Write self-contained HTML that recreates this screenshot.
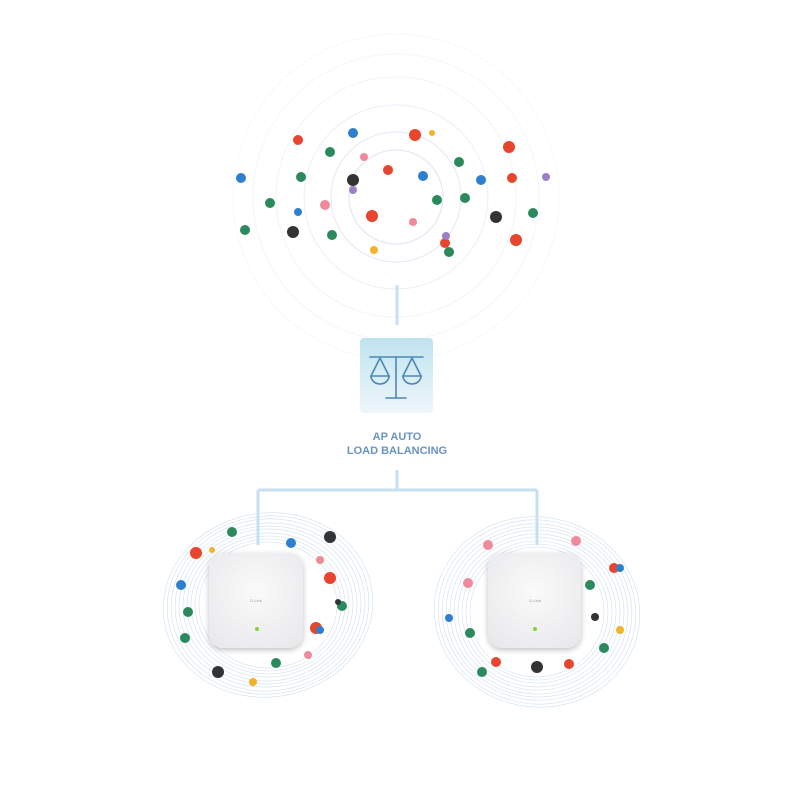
<!DOCTYPE html>
<html><head><meta charset="utf-8"><style>
html,body{margin:0;padding:0;background:#fff;width:800px;height:800px;overflow:hidden}
svg{display:block}
</style></head><body>
<svg width="800" height="800" viewBox="0 0 800 800" xmlns="http://www.w3.org/2000/svg">
<defs>
<linearGradient id="bx" x1="0" y1="0" x2="0" y2="1"><stop offset="0" stop-color="#bfe3ee"/><stop offset="1" stop-color="#eef6fa"/></linearGradient>
<radialGradient id="ap" cx="0.5" cy="0.4" r="0.7"><stop offset="0" stop-color="#fafafa"/><stop offset="1" stop-color="#e9e9ec"/></radialGradient>
<filter id="sh" x="-20%" y="-20%" width="140%" height="140%"><feGaussianBlur in="SourceAlpha" stdDeviation="3"/><feOffset dy="2"/><feComponentTransfer><feFuncA type="linear" slope="0.25"/></feComponentTransfer><feMerge><feMergeNode/><feMergeNode in="SourceGraphic"/></feMerge></filter>
</defs>
<g fill="none" stroke="#eceef8" stroke-width="1">
<circle cx="396" cy="197" r="47" stroke="#dfe2f3"/>
<circle cx="396" cy="197" r="65" stroke="#e5e7f5"/>
<circle cx="396" cy="197" r="92"/>
<circle cx="396" cy="197" r="120" stroke="#f3f4fa"/>
<circle cx="396" cy="197" r="143" stroke="#f5f6fb"/>
<circle cx="396" cy="197" r="163" stroke="#f8f8fc"/>
</g>
<!-- contour blobs -->
<g fill="none" stroke="#cfe0f0" stroke-width="0.6">
<ellipse cx="268" cy="605" rx="105" ry="92" transform="rotate(-8 268 605)"/>
<ellipse cx="268" cy="605" rx="101" ry="89" transform="rotate(-7 268 605)"/>
<ellipse cx="268" cy="605" rx="97" ry="86" transform="rotate(-6 268 605)"/>
<ellipse cx="268" cy="605" rx="93" ry="82" transform="rotate(-5 268 605)"/>
<ellipse cx="268" cy="605" rx="89" ry="79" transform="rotate(-4 268 605)"/>
<ellipse cx="268" cy="605" rx="85" ry="76" transform="rotate(-3 268 605)"/>
<ellipse cx="268" cy="605" rx="81" ry="72" transform="rotate(-2 268 605)"/>
<ellipse cx="268" cy="605" rx="77" ry="69"/>
<ellipse cx="268" cy="605" rx="73" ry="66"/>
<ellipse cx="268" cy="605" rx="69" ry="63"/>
<ellipse cx="537" cy="612" rx="103" ry="95" transform="rotate(10 537 612)"/>
<ellipse cx="537" cy="612" rx="99" ry="92" transform="rotate(9 537 612)"/>
<ellipse cx="537" cy="612" rx="95" ry="88" transform="rotate(8 537 612)"/>
<ellipse cx="537" cy="612" rx="91" ry="85" transform="rotate(6 537 612)"/>
<ellipse cx="537" cy="612" rx="87" ry="82" transform="rotate(5 537 612)"/>
<ellipse cx="537" cy="612" rx="83" ry="78" transform="rotate(3 537 612)"/>
<ellipse cx="537" cy="612" rx="79" ry="75" transform="rotate(2 537 612)"/>
<ellipse cx="537" cy="612" rx="75" ry="71"/>
<ellipse cx="537" cy="612" rx="71" ry="68"/>
<ellipse cx="537" cy="612" rx="67" ry="65"/>
</g>
<!-- connectors -->
<g stroke="#c6e0f0" stroke-width="3" fill="none">
<line x1="397" y1="285" x2="397" y2="325"/>
<line x1="397" y1="470" x2="397" y2="490"/>
<line x1="258" y1="490" x2="537" y2="490"/>
<line x1="258" y1="490" x2="258" y2="545"/>
<line x1="537" y1="490" x2="537" y2="545"/>
</g>
<rect x="360" y="338" width="73" height="75" rx="4" fill="url(#bx)"/>
<g stroke="#4f86b8" stroke-width="1.6" fill="none" stroke-linecap="round">
<line x1="370" y1="357" x2="423" y2="357"/>
<line x1="396" y1="357" x2="396" y2="398"/>
<line x1="386" y1="398" x2="406" y2="398"/>
<path d="M380 358 L371 376 L389 376 Z"/><path d="M371 376 A9 8 0 0 0 389 376"/>
<path d="M412 358 L403 376 L421 376 Z"/><path d="M403 376 A9 8 0 0 0 421 376"/>
</g>
<text x="397" y="440" text-anchor="middle" font-family="Liberation Sans, sans-serif" font-weight="bold" font-size="11" fill="#6a93c0">AP AUTO</text>
<text x="397" y="454" text-anchor="middle" font-family="Liberation Sans, sans-serif" font-weight="bold" font-size="11" fill="#6a93c0">LOAD BALANCING</text>
<!-- APs -->
<rect x="209" y="553" width="94" height="95" rx="14" fill="url(#ap)" filter="url(#sh)"/>
<text x="256" y="602" text-anchor="middle" font-family="Liberation Sans, sans-serif" font-size="4" fill="#999">D-Link</text>
<circle cx="257" cy="629" r="2" fill="#7fd43b"/>
<rect x="488" y="553" width="93" height="95" rx="14" fill="url(#ap)" filter="url(#sh)"/>
<text x="535" y="602" text-anchor="middle" font-family="Liberation Sans, sans-serif" font-size="4" fill="#999">D-Link</text>
<circle cx="535" cy="629" r="2" fill="#7fd43b"/>
<!-- people -->
<g>
<g fill="#e8452e"><circle cx="298" cy="140" r="5"/><circle cx="415" cy="135" r="6"/><circle cx="388" cy="170" r="5"/><circle cx="509" cy="147" r="6"/><circle cx="512" cy="178" r="5"/><circle cx="372" cy="216" r="6"/><circle cx="516" cy="240" r="6"/><circle cx="445" cy="243" r="5"/><circle cx="196" cy="553" r="6"/><circle cx="330" cy="578" r="6"/><circle cx="316" cy="628" r="6"/><circle cx="614" cy="568" r="5"/><circle cx="569" cy="664" r="5"/><circle cx="496" cy="662" r="5"/></g>
<g fill="#2b8a5c"><circle cx="330" cy="152" r="5"/><circle cx="459" cy="162" r="5"/><circle cx="270" cy="203" r="5"/><circle cx="301" cy="177" r="5"/><circle cx="437" cy="200" r="5"/><circle cx="465" cy="198" r="5"/><circle cx="533" cy="213" r="5"/><circle cx="245" cy="230" r="5"/><circle cx="332" cy="235" r="5"/><circle cx="449" cy="252" r="5"/><circle cx="232" cy="532" r="5"/><circle cx="188" cy="612" r="5"/><circle cx="185" cy="638" r="5"/><circle cx="342" cy="606" r="5"/><circle cx="276" cy="663" r="5"/><circle cx="590" cy="585" r="5"/><circle cx="470" cy="633" r="5"/><circle cx="604" cy="648" r="5"/><circle cx="482" cy="672" r="5"/></g>
<g fill="#2d7fd0"><circle cx="353" cy="133" r="5"/><circle cx="423" cy="176" r="5"/><circle cx="241" cy="178" r="5"/><circle cx="481" cy="180" r="5"/><circle cx="298" cy="212" r="4"/><circle cx="181" cy="585" r="5"/><circle cx="291" cy="543" r="5"/><circle cx="320" cy="630" r="4"/><circle cx="620" cy="568" r="4"/><circle cx="449" cy="618" r="4"/></g>
<g fill="#f08a9a"><circle cx="364" cy="157" r="4"/><circle cx="325" cy="205" r="5"/><circle cx="413" cy="222" r="4"/><circle cx="320" cy="560" r="4"/><circle cx="488" cy="545" r="5"/><circle cx="576" cy="541" r="5"/><circle cx="468" cy="583" r="5"/><circle cx="308" cy="655" r="4"/></g>
<g fill="#f2b22c"><circle cx="432" cy="133" r="3"/><circle cx="374" cy="250" r="4"/><circle cx="253" cy="682" r="4"/><circle cx="212" cy="550" r="3"/><circle cx="620" cy="630" r="4"/></g>
<g fill="#333"><circle cx="353" cy="180" r="6"/><circle cx="293" cy="232" r="6"/><circle cx="496" cy="217" r="6"/><circle cx="330" cy="537" r="6"/><circle cx="218" cy="672" r="6"/><circle cx="537" cy="667" r="6"/><circle cx="595" cy="617" r="4"/><circle cx="338" cy="602" r="3"/></g>
<g fill="#9b7fc9"><circle cx="546" cy="177" r="4"/><circle cx="446" cy="236" r="4"/><circle cx="353" cy="190" r="4"/></g>
</g>
</svg>
</body></html>
